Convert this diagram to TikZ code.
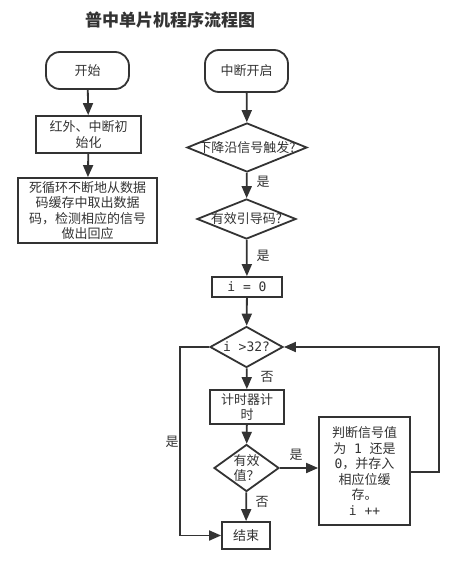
\documentclass[tikz,border=0pt]{standalone}
\usepackage{fontspec}
\setmainfont{Noto Sans CJK SC}
\setmonofont{DejaVu Sans Mono}
\usepackage{tikz}
\usetikzlibrary{shapes.geometric,arrows.meta}
\definecolor{ink}{HTML}{333333}

\begin{document}
\begin{tikzpicture}[x=1pt,y=-1pt,
        font=\fontsize{13}{15.5}\selectfont, color=ink,
        line width=1.8pt,
        term/.style={draw, rounded corners=14pt, inner sep=0pt},
        proc/.style={draw, align=center, inner sep=0pt},
        dia/.style={draw, diamond, inner sep=0pt},
        flow/.style={-{Triangle[length=12pt,width=10pt]}}]
        \useasboundingbox (0,0) rectangle (456,562);
        \node [font=\fontsize{17}{18}\selectfont\bfseries] (title) at (170,20) {普中单片机程序流程图};

        % main program
        \node [term, minimum width=83pt, minimum height=37pt] (start) at (87.5,70.5) {开始};
        \node [proc, minimum width=105pt, minimum height=37pt] (init) at (88.5,134.5) {红外、中断初\\始化};
        \node [proc, minimum width=139pt, minimum height=65pt] (mainloop) at (87.5,210.5)
            {死循环不断地从数据\\码缓存中取出数据\\码，检测相应的信号\\做出回应};
        \draw [flow] (start) -- (init);
        \draw [flow] (init) -- (mainloop);

        % interrupt routine
        \node [term, minimum width=83pt, minimum height=42pt] (irq) at (246.5,71) {中断开启};
        \node [dia, minimum width=120pt, minimum height=49pt, label={center:下降沿信号触发?}] (edge) at (247,147.5) {};
        \node [dia, minimum width=99pt, minimum height=40pt, label={center:有效引导码?}] (lead) at (246.5,219) {};
        \node [proc, minimum width=70pt, minimum height=20pt] (zero) at (247,287) {\ttfamily i = 0};
        \node [dia, minimum width=73pt, minimum height=41pt, label={center:\ttfamily i >32?}] (count) at (246.5,347) {};
        \node [proc, minimum width=74pt, minimum height=34pt] (timer) at (247,407) {计时器计\\时};
        \node [dia, minimum width=65pt, minimum height=47pt, label={[align=center]center:有效\\值？}] (valid) at (246.5,468) {};
        \node [proc, minimum width=48pt, minimum height=27pt] (stop) at (246,535.5) {结束};
        \node [proc, minimum width=91pt, minimum height=108pt] (judge) at (364.5,471)
            {判断信号值\\为\texttt{ 1 }还是\\\texttt{0}，并存入\\相应位缓\\存。\\\texttt{i ++}};

        \coordinate (back) at (439,347);
        \coordinate (side) at (180,347);

        \draw [flow] (irq) -- (edge);
        \draw [flow] (edge) -- (lead);
        \draw [flow] (lead) -- (zero);
        \draw [flow] (zero) -- (count);
        \draw [flow] (count) -- (timer);
        \draw [flow] (timer) -- (valid);
        \draw [flow] (valid) -- (stop);
        \draw [flow] (valid.east) -- (valid.east -| judge.west);
        \draw [flow] (judge.east |- 0,472) -| (back) -- (count.east);
        \draw [flow] (count.west) -- (side) |- (stop.west);

        \node (yes1) at (263,182) {是};
        \node (yes2) at (263,256) {是};
        \node (no1) at (267,377) {否};
        \node (no2) at (262,502) {否};
        \node (yes3) at (296,455) {是};
        \node (yes4) at (172,442) {是};
    \end{tikzpicture}
\end{document}
